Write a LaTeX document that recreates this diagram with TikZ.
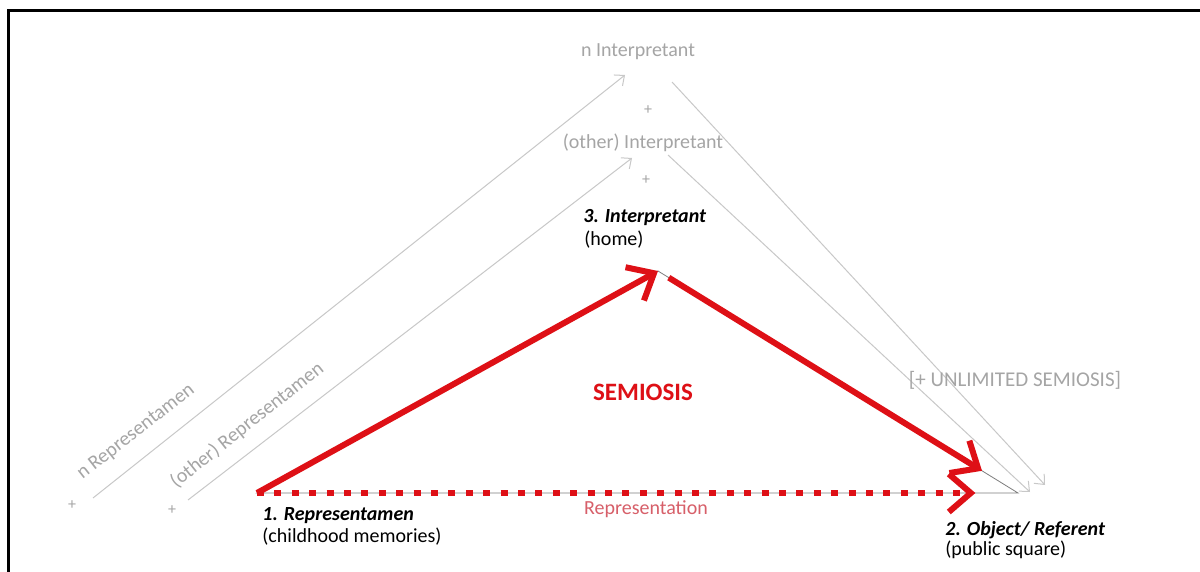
\documentclass[tikz,border=0pt]{standalone}
\usepackage{fontspec}
\setmainfont{Carlito}
\usetikzlibrary{arrows.meta,calc}
\definecolor{semred}{RGB}{222,16,22}
\definecolor{lgrey}{RGB}{200,200,200}
\definecolor{tgrey}{RGB}{165,165,165}
\definecolor{pinkred}{RGB}{215,95,105}
\definecolor{dgrey}{RGB}{125,125,125}
\begin{document}
\begin{tikzpicture}[x=0.5pt,y=-0.5pt,
  lbl/.style={inner sep=0pt,font=\fontsize{10}{12}\selectfont},
  glbl/.style={lbl,text=tgrey},
  blbl/.style={lbl,font=\fontsize{10}{12}\selectfont\bfseries\itshape},
  plus/.style={inner sep=0pt,text=tgrey,font=\fontsize{8}{9}\selectfont},
  greyarrow/.style={draw=lgrey,line width=0.5pt,-{Straight Barb[length=4pt,width=7pt]}},
  redarrow/.style={draw=semred,line width=3pt,-{Straight Barb[length=11pt,width=19pt]}},
  base/.style={draw=dgrey,line width=0.4pt}
]
\useasboundingbox (0,0) rectangle (1200,572);
\fill[white] (0,0) rectangle (1200,572);
\draw[line width=1.5pt] (8,572) |- (1200,11);

% main triangle vertices
\coordinate (R) at (257,493);
\coordinate (I) at (658,271);
\coordinate (O) at (1018,493);

% outer grey semiosis lines
\coordinate (nRs) at (93,498);
\coordinate (nRe) at (625,75);
\coordinate (oRs) at (188,500);
\coordinate (oRe) at (632,158);
\coordinate (nIs) at (672,82);
\coordinate (nIe) at (1045,485);
\coordinate (oIs) at (668,155);
\coordinate (oIe) at (1030,492);

\draw[greyarrow] (nRs) -- (nRe);
\draw[greyarrow] (oRs) -- (oRe);
\draw[greyarrow] (nIs) -- (nIe);
\draw[greyarrow] (oIs) -- (oIe);

% thin base triangle
\draw[base] (R) -- (I) -- (O) -- cycle;

% red arrows
\draw[redarrow] (R) -- (I);
\draw[redarrow] ($(I)!0.03!(O)$) -- ($(I)!0.9!(O)$);
\draw[redarrow,dash pattern=on 3.5pt off 5.2pt] (R) -- ($(R)!0.944!(O)$);

% labels
\node[glbl] (nI) at (638,52) {n Interpretant};
\node[plus] (p1) at (648,110) {+};
\node[glbl] (oI) at (643,143) {(other) Interpretant};
\node[plus] (p2) at (646,180) {+};
\node[blbl,anchor=west] (I3) at (583,218) {3. Interpretant};
\node[lbl,anchor=west] (I3b) at (584,240) {(home)};
\node[inner sep=0pt,text=semred,font=\fontsize{12.5}{14}\selectfont\bfseries] (sem) at (643,392) {SEMIOSIS};
\node[glbl,font=\fontsize{10.5}{12}\selectfont] (unl) at (1015,380) {[+ UNLIMITED SEMIOSIS]};
\node[blbl,anchor=west] (R1) at (262,516) {1. Representamen};
\node[lbl,anchor=west] (R1b) at (262,537) {(childhood memories)};
\node[lbl,text=pinkred] (rep) at (646,509) {Representation};
\node[blbl,anchor=west] (O2) at (945,530) {2. Object/ Referent};
\node[lbl,anchor=west] (O2b) at (945,550) {(public square)};
\node[glbl,rotate=38] (nR) at (136,432) {n Representamen};
\node[glbl,rotate=38.5] (oR) at (247,425) {(other) Representamen};
\node[plus] (p3) at (72,505) {+};
\node[plus] (p4) at (172,510) {+};
\end{tikzpicture}
\end{document}
